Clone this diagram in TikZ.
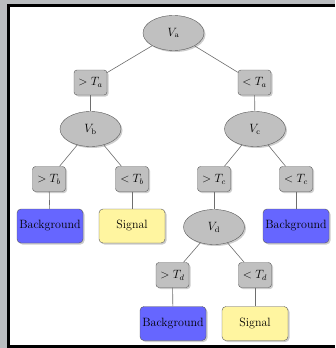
\documentclass[tikz,border=0pt]{standalone}
\usepackage{amsmath}
\usepackage{tikz}
\usetikzlibrary{positioning,shapes.geometric,shadows}
\definecolor{FrameGray}{RGB}{186,189,192}
\definecolor{NodeGray}{RGB}{192,192,192}
\definecolor{LeafBlue}{RGB}{102,102,255}
\definecolor{LeafYellow}{RGB}{255,245,160}
\definecolor{EdgeGray}{RGB}{110,110,110}

\begin{document}
\begin{tikzpicture}[x=1pt,y=-1pt,every node/.style={font=\large},
  var/.style={ellipse,draw=black!65,fill=NodeGray,minimum width=61pt,minimum height=35pt,inner sep=1pt,drop shadow={shadow xshift=1.5pt,shadow yshift=-1.5pt,opacity=0.4}},
  cut/.style={rectangle,rounded corners=3pt,draw=black!65,fill=NodeGray,minimum width=33pt,minimum height=25pt,inner sep=1pt,drop shadow={shadow xshift=1.5pt,shadow yshift=-1.5pt,opacity=0.4}},
  leaf/.style={rectangle,rounded corners=4pt,draw=black!65,minimum width=66pt,minimum height=34pt,inner xsep=1pt,drop shadow={shadow xshift=1.5pt,shadow yshift=-1.5pt,opacity=0.4}},
  bkg/.style={leaf,fill=LeafBlue},
  sig/.style={leaf,fill=LeafYellow},
  link/.style={draw=EdgeGray,line width=0.6pt}]
\useasboundingbox (0,0) rectangle (335,348);
\fill[FrameGray] (0,0) rectangle (335,348);
\fill[white] (8.5,5.5) rectangle (335,346.5);
\draw[line width=3pt] (335,5.5) -- (8.5,5.5) -- (8.5,346.5) -- (335,346.5);
% tree
\node[var] (va) at (173.5,33) {$V_\mathrm{a}$};
\node[cut] (gta) at (90.5,82.5) {$>T_a$};
\node[cut] (lta) at (254.5,82.5) {$<T_a$};
\node[var] (vb) at (90.5,129) {$V_\mathrm{b}$};
\node[var] (vc) at (255,129) {$V_\mathrm{c}$};
\node[cut] (gtb) at (49,179) {$>T_b$};
\node[cut] (ltb) at (132,179) {$<T_b$};
\node[cut] (gtc) at (214,179) {$>T_c$};
\node[cut] (ltc) at (296,179) {$<T_c$};
\node[bkg] (bga) at (50,226) {Background};
\node[sig] (siga) at (132,226) {Signal};
\node[var] (vd) at (214,227) {$V_\mathrm{d}$};
\node[bkg] (bgb) at (296,226) {Background};
\node[cut] (gtd) at (172.5,275) {$>T_d$};
\node[cut] (ltd) at (255,275) {$<T_d$};
\node[bkg] (bgc) at (173,323.5) {Background};
\node[sig] (sigb) at (255,323.5) {Signal};
% links
\draw[link] (va) -- (gta);
\draw[link] (va) -- (lta);
\draw[link] (gta) -- (vb);
\draw[link] (lta) -- (vc);
\draw[link] (vb) -- (gtb);
\draw[link] (vb) -- (ltb);
\draw[link] (vc) -- (gtc);
\draw[link] (vc) -- (ltc);
\draw[link] (gtb) -- (bga);
\draw[link] (ltb) -- (siga);
\draw[link] (gtc) -- (vd);
\draw[link] (ltc) -- (bgb);
\draw[link] (vd) -- (gtd);
\draw[link] (vd) -- (ltd);
\draw[link] (gtd) -- (bgc);
\draw[link] (ltd) -- (sigb);
\end{tikzpicture}
\end{document}
